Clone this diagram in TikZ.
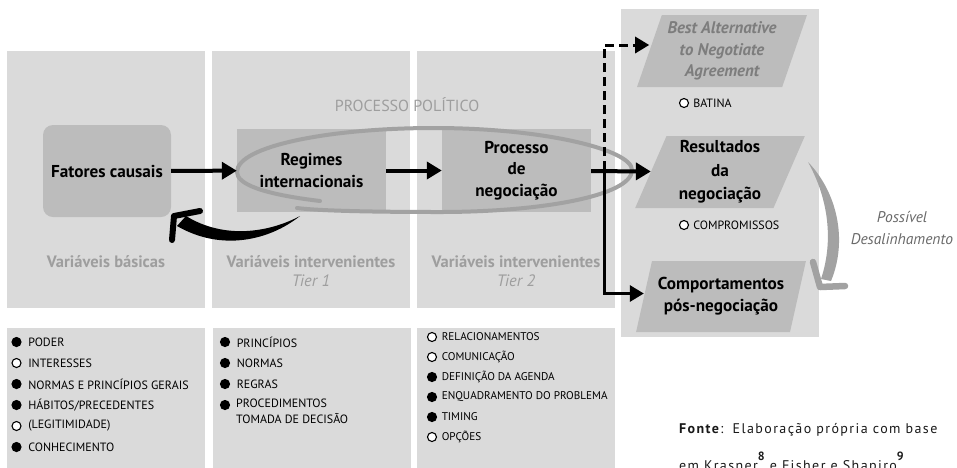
\documentclass[tikz,border=0pt]{standalone}
\usepackage{fontspec}
\setmainfont{PT Sans}
\newfontfamily\notefont[LetterSpace=10]{PT Sans}
\usetikzlibrary{arrows.meta,positioning,shapes.geometric,calc}
\definecolor{panelgray}{RGB}{218,218,218}
\definecolor{boxgray}{RGB}{188,188,188}
\definecolor{labelgray}{RGB}{158,158,158}
\definecolor{loopgray}{RGB}{162,162,162}
\definecolor{batnagray}{RGB}{125,125,125}
\definecolor{notegray}{RGB}{105,105,105}

\begin{document}
\begin{tikzpicture}[x=1pt, y=-1pt,
        panel/.style={fill=panelgray, minimum width=198, minimum height=257, inner sep=0},
        listbox/.style={fill=panelgray, anchor=north west, minimum width=198, minimum height=150, inner sep=0},
        box/.style={fill=boxgray, minimum width=149, minimum height=83, inner sep=0, align=center,
            font=\fontsize{17.2}{21.5}\selectfont\bfseries},
        para/.style={trapezium, trapezium left angle=69, trapezium right angle=111,
            trapezium stretches=true, fill=boxgray, minimum width=170, minimum height=72,
            inner sep=0, align=center, font=\fontsize{17.2}{23.5}\selectfont\bfseries},
        paneltitle/.style={text=labelgray, align=center, inner sep=0,
            font=\fontsize{16.5}{19.5}\selectfont\bfseries},
        dot/.style={circle, draw=black, line width=1.1pt, inner sep=0, minimum size=9},
        item/.style={anchor=west, inner sep=0, font=\fontsize{12}{16}\selectfont},
        arr/.style={-{Triangle[length=15pt,width=17pt]}, line width=4pt},
        sidearr/.style={-{Triangle[length=14pt,width=16pt]}, line width=3pt},
        loop/.style={loopgray, line width=4pt, line cap=round}
    ]
        \useasboundingbox (0,0) rectangle (957,467);
        \clip (0,0) rectangle (957,467);

        % Columns
        \node[panel] (basicas) at (106,179.5) {};
        \node[panel] (tier1) at (311,179.5) {};
        \node[panel] (tier2) at (516,179.5) {};
        \node[panel, minimum height=328] (saidas) at (720,173) {};

        \node[paneltitle] (lbasicas) at (106,262) {Variáveis básicas};
        \node[paneltitle] (ltier1) at (311,271) {Variáveis intervenientes\\\mdseries\itshape Tier 1};
        \node[paneltitle] (ltier2) at (516,271) {Variáveis intervenientes\\\mdseries\itshape Tier 2};
        \node[text=labelgray, font=\fontsize{16}{18}\selectfont] (politico) at (407,105) {PROCESSO POLÍTICO};

        % Main boxes
        \node[box, rounded corners=10pt, minimum width=128, minimum height=92] (fatores) at (107,171) {Fatores causais};
        \node[box] (regimes) at (311.5,170.5) {Regimes\\internacionais};
        \node[box] (processo) at (516.5,170.5) {Processo\\de\\negociação};

        % Results
        \node[para, text=batnagray, font=\fontsize{16.8}{21.5}\selectfont\bfseries\itshape] (batna) at (722,51) {Best Alternative\\to Negotiate\\Agreement};
        \node[para] (resultados) at (720,172) {Resultados\\da\\negociação};
        \node[para, minimum height=71, font=\fontsize{17.2}{22}\selectfont\bfseries] (comport) at (721,296.5) {Comportamentos\\pós-negociação};

        \node[dot, fill=white] (batnadot) at (684,103) {};
        \node[item, right=4pt of batnadot] (batnatxt) {BATINA};
        \node[dot, fill=white] (compdot) at (684,225) {};
        \node[item, right=4pt of compdot] (comptxt) {COMPROMISSOS};

        % Political process loop
        \draw[loop] (320,201) .. controls (262,194) and (237,184) .. (237,172)
            .. controls (237,146) and (330,128) .. (434,128)
            .. controls (545,128) and (632,150) .. (632,170)
            .. controls (632,196) and (540,212) .. (440,212)
            .. controls (380,212) and (320,211) .. (297,208);

        % Flow
        \coordinate (split) at (604,170);
        \draw[arr] (fatores) -- (regimes);
        \draw[arr] (regimes) -- (processo);
        \draw[arr] (processo) -- (resultados);
        \draw[sidearr, dash pattern=on 9pt off 5pt] (split) |- ([yshift=6pt]batna.west);
        \draw[sidearr] (split) |- ([yshift=3pt]comport.west);

        % Feedback to the causal factors
        \coordinate (fbstart) at (300,216);
        \coordinate (fbtip) at (174,216);
        \fill (fbstart) .. controls (270,240) and (222,252) .. (177,226)
            -- (186,216) .. controls (225,240) and (270,232) .. (fbstart);
        \draw[line width=6pt, line cap=round, line join=round] (200,211) -- (fbtip) -- (172,240);

        % Possible misalignment
        \coordinate (dsstart) at (808,162);
        \coordinate (dstip) at (820,287);
        \fill[loopgray] (dsstart) .. controls (837,192) and (848,240) .. (831,281)
            -- (821,279) .. controls (834,240) and (828,198) .. (dsstart);
        \draw[loopgray, line width=6.5pt, line cap=round, line join=round] (813,262) -- (dstip) -- (845,286);
        \node[text=notegray, align=center, font=\fontsize{15.5}{22}\selectfont\itshape] (desal) at (902,228) {Possível\\Desalinhamento};

        % Lists
        \node[listbox] (lista1) at (7,328) {};
        \node[listbox] (lista2) at (213,328) {};
        \node[listbox] (lista3) at (417,328) {};

        \foreach \txt/\fl [count=\i] in {PODER/black, INTERESSES/white, NORMAS E PRINCÍPIOS GERAIS/black,
                {HÁBITOS/PRECEDENTES}/black, {(LEGITIMIDADE)}/white, CONHECIMENTO/black} {
            \node[dot, fill=\fl] (pd\i) at (16.5,{342+21*(\i-1)}) {};
            \node[item, right=6.5pt of pd\i] (pt\i) {\txt};
        }
        \foreach \txt [count=\i] in {PRINCÍPIOS, NORMAS, REGRAS} {
            \node[dot, fill=black] (rd\i) at (225,{342+21*(\i-1)}) {};
            \node[item, right=6.5pt of rd\i] (rt\i) {\txt};
        }
        \node[dot, fill=black] (rd4) at (225,405) {};
        \node[item, anchor=north west, align=left] (rt4) at (236,398.5) {PROCEDIMENTOS\\TOMADA DE DECISÃO};
        \foreach \txt/\fl [count=\i] in {RELACIONAMENTOS/white, COMUNICAÇÃO/white, DEFINIÇÃO DA AGENDA/black,
                ENQUADRAMENTO DO PROBLEMA/black, TIMING/black, OPÇÕES/white} {
            \node[dot, fill=\fl] (nd\i) at (432,{337+20*(\i-1)}) {};
            \node[item, right=4.5pt of nd\i, font=\fontsize{11.2}{16}\selectfont] (nt\i) {\txt};
        }

        % Source
        \node[anchor=north west, align=left, inner sep=0, text=black!90,
            font=\fontsize{14}{37}\notefont] (fonte) at (679,423)
            {\textbf{Fonte}:\, Elaboração própria com base\\em Krasner\raisebox{0.7em}{\fontsize{12}{12}\selectfont\bfseries 8} e Fisher e Shapiro\raisebox{0.7em}{\fontsize{12}{12}\selectfont\bfseries 9}};
    \end{tikzpicture}
\end{document}
